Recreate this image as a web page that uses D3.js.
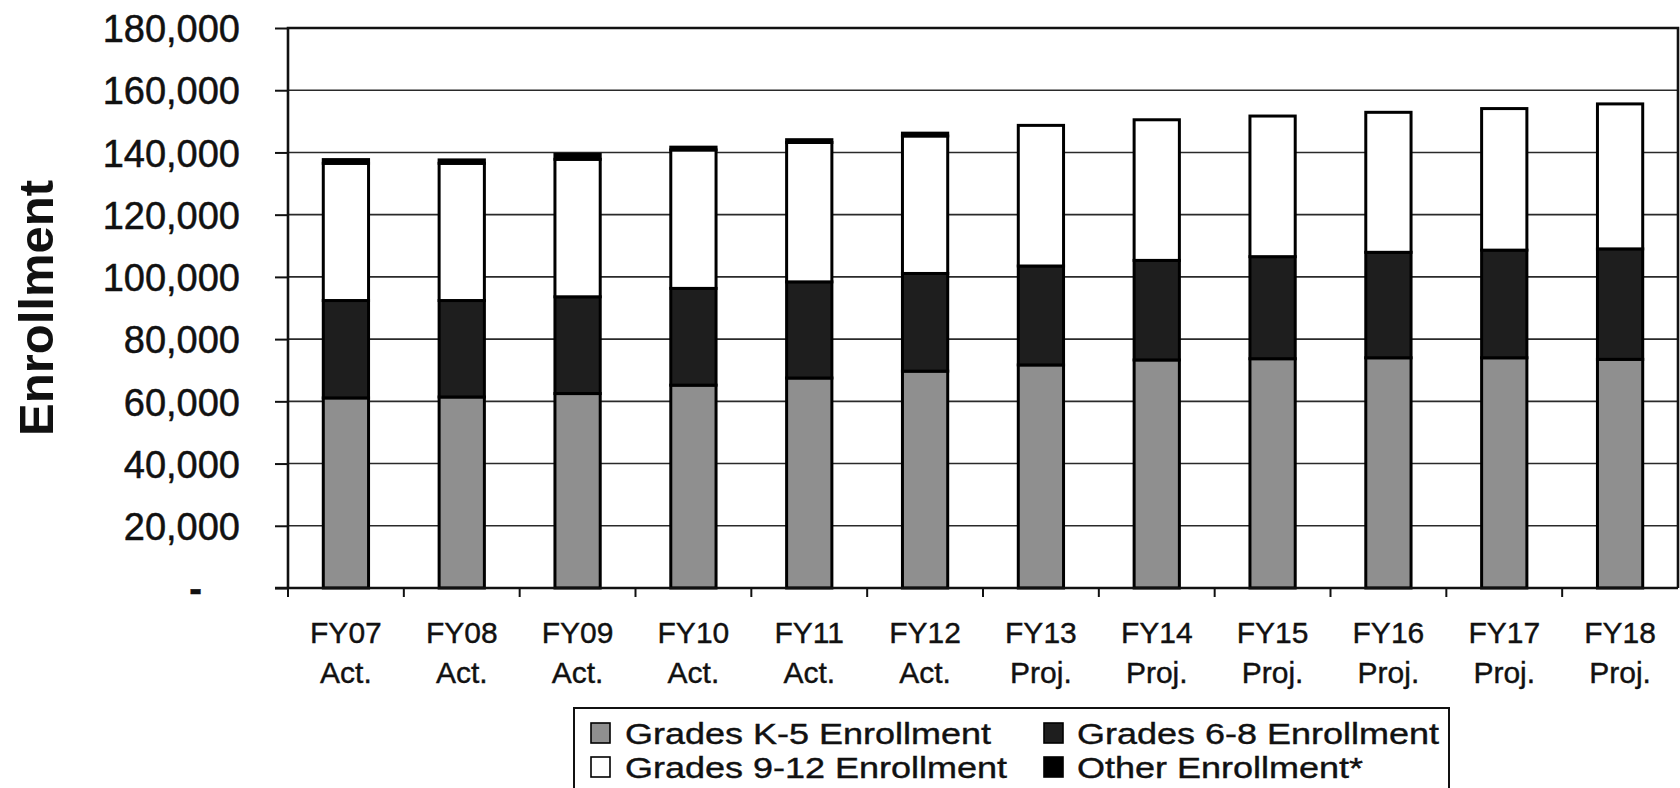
<!DOCTYPE html>
<html>
<head>
<meta charset="utf-8">
<script src="https://cdn.jsdelivr.net/npm/d3@7"></script>
<style>
  html, body { margin: 0; padding: 0; background: #fff; }
  svg { display: block; font-family: "Liberation Sans", Arial, sans-serif; }
</style>
</head>
<body>
<svg id="chart" width="1680" height="788"></svg>
<script>
// Enrollment by grade band, actual FY07-FY12 and projected FY13-FY18
const categories = ["FY07","FY08","FY09","FY10","FY11","FY12","FY13","FY14","FY15","FY16","FY17","FY18"];
const periods    = ["Act.","Act.","Act.","Act.","Act.","Act.","Proj.","Proj.","Proj.","Proj.","Proj.","Proj."];
const gradesK5   = [61100, 61400, 62500, 65200, 67500, 69700, 71700, 73300, 73700, 74000, 74000, 73500];
const grades68   = [31300, 31000, 31100, 31100, 30900, 31400, 31800, 32000, 32800, 33900, 34600, 35500];
const grades912  = [44100, 44100, 44200, 44500, 44800, 44200, 45200, 45200, 45200, 45000, 45500, 46600];
const otherEnrol = [1200, 1100, 1600, 900, 900, 900, 0, 0, 0, 0, 0, 0];
const yTicks     = [0, 20000, 40000, 60000, 80000, 100000, 120000, 140000, 160000, 180000];
const seriesNames = ["Grades K-5 Enrollment", "Grades 6-8 Enrollment", "Grades 9-12 Enrollment", "Other Enrollment*"];
const seriesKeys  = ["k5", "g68", "g912", "other"];

const fills = { k5: "#8f8f8f", g68: "#1e1e1e", g912: "#ffffff", other: "#000000" };
const ink = "#111";

const rows = categories.map((c, i) => ({
  cat: c, k5: gradesK5[i], g68: grades68[i], g912: grades912[i], other: otherEnrol[i]
}));

const svg = d3.select("#chart");
const plot = { left: 288, right: 1678, top: 28, bottom: 588 };

const x = d3.scaleBand()
  .domain(categories)
  .range([plot.left, plot.right])
  .paddingInner(1.4 / 2.4)
  .paddingOuter(0.7 / 2.4);

const y = d3.scaleLinear().domain([0, 180000]).range([plot.bottom, plot.top]);

// horizontal gridlines
svg.append("g")
  .selectAll("line")
  .data(yTicks.filter(d => d > 0))
  .join("line")
  .attr("x1", plot.left).attr("x2", plot.right)
  .attr("y1", d => y(d)).attr("y2", d => y(d))
  .attr("stroke", "#2a2a2a")
  .attr("stroke-width", 1.6);

// plot frame (left, top, right)
svg.append("path")
  .attr("d", `M${plot.left},${plot.bottom}V${plot.top}H${plot.right}V${plot.bottom}`)
  .attr("fill", "none")
  .attr("stroke", ink)
  .attr("stroke-width", 2.6);

// y axis
const yAxis = d3.axisLeft(y)
  .tickValues(yTicks)
  .tickSize(13)
  .tickPadding(35)
  .tickFormat(d => d === 0 ? "-" : d3.format(",")(d));

const gy = svg.append("g")
  .attr("transform", `translate(${plot.left},0)`)
  .call(yAxis);
gy.select(".domain").remove();
gy.selectAll(".tick line").attr("stroke", ink).attr("stroke-width", 2);
gy.selectAll(".tick text")
  .attr("font-size", 38)
  .attr("fill", ink)
  .attr("stroke", ink)
  .attr("stroke-width", 0.5)
  .attr("font-family", "'Liberation Sans', Arial, sans-serif")
  .attr("dy", "0.36em");
gy.selectAll(".tick text").filter(d => d === 0)
  .attr("dx", -38)
  .attr("font-weight", "bold");

// stacked bars
const stack = d3.stack().keys(seriesKeys);
const layers = stack(rows);
const barW = x.bandwidth() - 3;

svg.append("g")
  .selectAll("g")
  .data(layers)
  .join("g")
  .attr("fill", d => fills[d.key])
  .selectAll("rect")
  .data(d => d.filter(p => p[1] - p[0] > 0))
  .join("rect")
  .attr("x", d => x(d.data.cat) + (x.bandwidth() - barW) / 2)
  .attr("width", barW)
  .attr("y", d => y(d[1]))
  .attr("height", d => y(d[0]) - y(d[1]))
  .attr("stroke", "#000")
  .attr("stroke-width", 3);

// x axis line and ticks at category boundaries
svg.append("line")
  .attr("x1", plot.left - 13).attr("x2", plot.right)
  .attr("y1", plot.bottom).attr("y2", plot.bottom)
  .attr("stroke", ink).attr("stroke-width", 2.6);

const bounds = d3.range(categories.length + 1).map(i => x.range()[0] + i * x.step());
svg.append("g")
  .selectAll("line")
  .data(bounds.slice(0, -1))
  .join("line")
  .attr("x1", d => d).attr("x2", d => d)
  .attr("y1", plot.bottom).attr("y2", plot.bottom + 9)
  .attr("stroke", ink).attr("stroke-width", 2);

// category labels (two lines)
const xl = svg.append("g")
  .attr("font-size", 30)
  .attr("fill", ink)
  .attr("stroke", ink)
  .attr("stroke-width", 0.4)
  .attr("text-anchor", "middle");
xl.selectAll("text.cat")
  .data(categories)
  .join("text")
  .attr("class", "cat")
  .attr("x", d => x(d) + x.bandwidth() / 2)
  .attr("y", 643)
  .text(d => d);
xl.selectAll("text.per")
  .data(categories)
  .join("text")
  .attr("class", "per")
  .attr("x", d => x(d) + x.bandwidth() / 2)
  .attr("y", 683)
  .text((d, i) => periods[i]);

// y axis title
svg.append("text")
  .attr("transform", `translate(53,${(plot.top + plot.bottom) / 2}) rotate(-90)`)
  .attr("text-anchor", "middle")
  .attr("font-size", 49)
  .attr("font-weight", "bold")
  .attr("fill", ink)
  .text("Enrollment");

// legend
const legend = svg.append("g");
legend.append("rect")
  .attr("x", 574).attr("y", 708)
  .attr("width", 1449 - 574).attr("height", 100)
  .attr("fill", "#fff")
  .attr("stroke", ink)
  .attr("stroke-width", 2);

const legendItems = [
  { key: "k5",    name: seriesNames[0], sx: 591,  tx: 625,  by: 744 },
  { key: "g68",   name: seriesNames[1], sx: 1044, tx: 1077, by: 744 },
  { key: "g912",  name: seriesNames[2], sx: 591,  tx: 625,  by: 778 },
  { key: "other", name: seriesNames[3], sx: 1044, tx: 1077, by: 778 }
];
const li = legend.selectAll("g.item")
  .data(legendItems)
  .join("g")
  .attr("class", "item");
li.append("rect")
  .attr("x", d => d.sx)
  .attr("y", d => d.by - 21)
  .attr("width", 19).attr("height", 20)
  .attr("fill", d => fills[d.key])
  .attr("stroke", "#000")
  .attr("stroke-width", 1.6);
li.append("text")
  .attr("transform", d => `translate(${d.tx},${d.by}) scale(1.2,1)`)
  .attr("font-size", 30)
  .attr("fill", ink)
  .attr("stroke", ink)
  .attr("stroke-width", 0.4)
  .text(d => d.name);
</script>
</body>
</html>
